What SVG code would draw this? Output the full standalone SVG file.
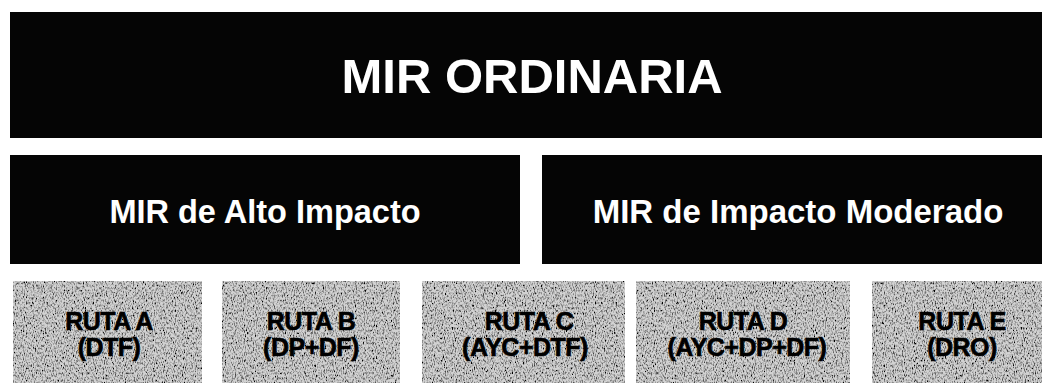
<svg xmlns="http://www.w3.org/2000/svg" width="1042" height="383" viewBox="0 0 1042 383">
<style>
.dark{fill:#050505}
.gray{fill:#d2d2d2}
.wt{fill:#ffffff;font-family:"Liberation Sans",Arial,sans-serif;font-weight:bold;text-anchor:middle}
.bt{fill:#000000;font-family:"Liberation Sans",Arial,sans-serif;font-weight:bold;text-anchor:middle;font-size:25px;letter-spacing:-0.5px;stroke:#000000;stroke-width:0.6px}
</style>
<defs>
<filter id="grain" x="0" y="0" width="100%" height="100%">
<feTurbulence type="fractalNoise" baseFrequency="0.9 0.4" numOctaves="2" seed="7" result="n"/>
<feColorMatrix in="n" type="matrix" values="0 0 0 0 0  0 0 0 0 0  0 0 0 0 0  3 0 0 0 -1.3" result="dots"/>
<feComposite in="dots" in2="SourceGraphic" operator="in" result="d2"/>
<feMerge><feMergeNode in="SourceGraphic"/><feMergeNode in="d2"/></feMerge>
</filter>
</defs>
<rect width="1042" height="383" fill="#ffffff"/>
<g id="mir-ordinaria">
<rect class="dark" x="10" y="12" width="1032" height="126"/>
<text class="wt" x="532" y="93" font-size="49">MIR ORDINARIA</text>
</g>
<g id="mir-alto">
<rect class="dark" x="10" y="155" width="510" height="109"/>
<text class="wt" x="265" y="223" font-size="32.5">MIR de Alto Impacto</text>
</g>
<g id="mir-moderado">
<rect class="dark" x="542" y="155" width="500" height="109"/>
<text class="wt" x="798" y="223" font-size="33">MIR de Impacto Moderado</text>
</g>
<g id="ruta-a">
<rect class="gray" filter="url(#grain)" x="13" y="281" width="189" height="102"/>
<text class="bt" x="109" y="330">RUTA A</text>
<text class="bt" x="109" y="356">(DTF)</text>
</g>
<g id="ruta-b">
<rect class="gray" filter="url(#grain)" x="222" y="281" width="178" height="102"/>
<text class="bt" x="311" y="330">RUTA B</text>
<text class="bt" x="311" y="356">(DP+DF)</text>
</g>
<g id="ruta-c">
<rect class="gray" filter="url(#grain)" x="422" y="281" width="203" height="102"/>
<text class="bt" x="529" y="330">RUTA C</text>
<text class="bt" x="525" y="356">(AYC+DTF)</text>
</g>
<g id="ruta-d">
<rect class="gray" filter="url(#grain)" x="636" y="281" width="214" height="102"/>
<text class="bt" x="743" y="330">RUTA D</text>
<text class="bt" x="747" y="356">(AYC+DP+DF)</text>
</g>
<g id="ruta-e">
<rect class="gray" filter="url(#grain)" x="872" y="281" width="170" height="102"/>
<text class="bt" x="962" y="330">RUTA E</text>
<text class="bt" x="962" y="356">(DRO)</text>
</g>
<g id="connectors"></g>
</svg>
